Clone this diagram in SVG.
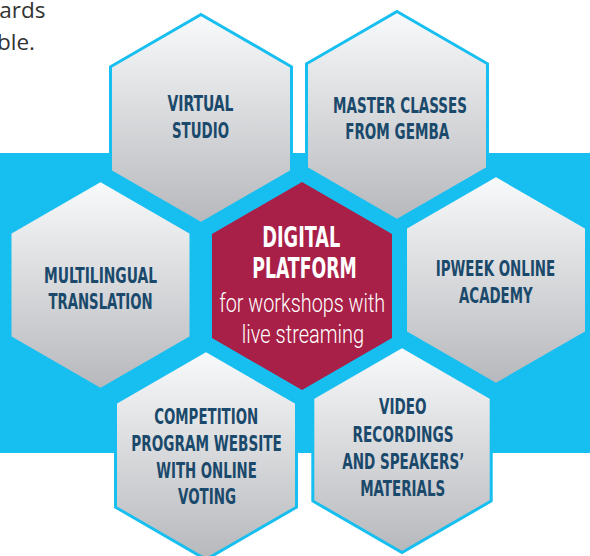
<svg xmlns="http://www.w3.org/2000/svg" width="590" height="556" viewBox="0 0 590 556">
  <defs>
    <linearGradient id="gray" x1="0" y1="0" x2="0" y2="1">
      <stop offset="0" stop-color="#f9fafb"/>
      <stop offset="1" stop-color="#b6b8bc"/>
    </linearGradient>
    <style>
      .hex { fill: url(#gray); stroke: #17bff0; stroke-width: 3; stroke-linejoin: miter; }
      .core { fill: #a81f47; }
      .lbl { font-family: "Liberation Sans Narrow", "DejaVu Sans Condensed", "Liberation Sans", sans-serif; font-stretch: condensed; font-weight: bold; font-size: 22px; fill: #1a496b; text-anchor: middle; }
      .title { font-family: "Liberation Sans Narrow", "DejaVu Sans Condensed", "Liberation Sans", sans-serif; font-stretch: condensed; font-weight: bold; font-size: 28px; fill: #ffffff; text-anchor: middle; }
      .sub { font-family: Roboto, "Liberation Sans", sans-serif; font-weight: 300; font-size: 25px; fill: #ffffff; text-anchor: middle; }
      .para { font-family: "Open Sans", "Liberation Sans", sans-serif; font-size: 22.5px; fill: #333333; text-anchor: end; }
    </style>
  </defs>

  <g id="intro-text">
    <text class="para" x="45.5" y="18.3">ards</text>
    <text class="para" x="35" y="50">ble.</text>
  </g>

  <rect id="band" x="0" y="153" width="590" height="300" fill="#17bff0"/>

  <g id="virtual-studio">
    <polygon class="hex" points="201,14.5 291.5,66.75 291.5,171.25 201,223.5 110.5,171.25 110.5,66.75"/>
    <text class="lbl" x="200.5" y="111" textLength="66" lengthAdjust="spacingAndGlyphs">VIRTUAL</text>
    <text class="lbl" x="200.5" y="138" textLength="57" lengthAdjust="spacingAndGlyphs">STUDIO</text>
  </g>

  <g id="master-classes">
    <polygon class="hex" points="397,11.5 487.5,63.75 487.5,168.25 397,220.5 306.5,168.25 306.5,63.75"/>
    <text class="lbl" x="400" y="113.3" textLength="134" lengthAdjust="spacingAndGlyphs">MASTER CLASSES</text>
    <text class="lbl" x="397.2" y="139.3" textLength="104" lengthAdjust="spacingAndGlyphs">FROM GEMBA</text>
  </g>

  <g id="multilingual-translation">
    <polygon class="hex" points="100.5,180.5 191,232.75 191,337.25 100.5,389.5 10,337.25 10,232.75"/>
    <text class="lbl" x="100.5" y="282.7" textLength="113" lengthAdjust="spacingAndGlyphs">MULTILINGUAL</text>
    <text class="lbl" x="100.5" y="309.3" textLength="104" lengthAdjust="spacingAndGlyphs">TRANSLATION</text>
  </g>

  <g id="ipweek-academy">
    <polygon class="hex" points="496,175.5 586.5,227.75 586.5,332.25 496,384.5 405.5,332.25 405.5,227.75"/>
    <text class="lbl" x="495.5" y="276" textLength="119.5" lengthAdjust="spacingAndGlyphs">IPWEEK ONLINE</text>
    <text class="lbl" x="495.8" y="302.7" textLength="73.5" lengthAdjust="spacingAndGlyphs">ACADEMY</text>
  </g>

  <g id="competition-website">
    <polygon class="hex" points="206,350.5 296.5,402.75 296.5,507.25 206,559.5 115.5,507.25 115.5,402.75"/>
    <text class="lbl" x="206.2" y="424.3" textLength="104" lengthAdjust="spacingAndGlyphs">COMPETITION</text>
    <text class="lbl" x="206.6" y="451" textLength="150.5" lengthAdjust="spacingAndGlyphs">PROGRAM WEBSITE</text>
    <text class="lbl" x="206.6" y="477.7" textLength="100.5" lengthAdjust="spacingAndGlyphs">WITH ONLINE</text>
    <text class="lbl" x="207" y="504.3" textLength="58" lengthAdjust="spacingAndGlyphs">VOTING</text>
  </g>

  <g id="video-recordings">
    <polygon class="hex" points="402,346.5 491.2,398 491.2,501 402,552.5 312.8,501 312.8,398"/>
    <text class="lbl" x="402.8" y="414.3" textLength="47.5" lengthAdjust="spacingAndGlyphs">VIDEO</text>
    <text class="lbl" x="403" y="441.7" textLength="101" lengthAdjust="spacingAndGlyphs">RECORDINGS</text>
    <text class="lbl" x="403.3" y="469.3" textLength="122" lengthAdjust="spacingAndGlyphs">AND SPEAKERS’</text>
    <text class="lbl" x="402.7" y="496" textLength="85" lengthAdjust="spacingAndGlyphs">MATERIALS</text>
  </g>

  <g id="digital-platform">
    <polygon class="core" points="302,182 392,234 392,338 302,390 212,338 212,234"/>
    <text class="title" x="301.3" y="246.7" textLength="78" lengthAdjust="spacingAndGlyphs">DIGITAL</text>
    <text class="title" x="304.5" y="278.3" textLength="104.5" lengthAdjust="spacingAndGlyphs">PLATFORM</text>
    <text class="sub" x="302.2" y="311.7" textLength="166" lengthAdjust="spacingAndGlyphs">for workshops with</text>
    <text class="sub" x="303" y="342.7" textLength="122.5" lengthAdjust="spacingAndGlyphs">live streaming</text>
  </g>
</svg>
